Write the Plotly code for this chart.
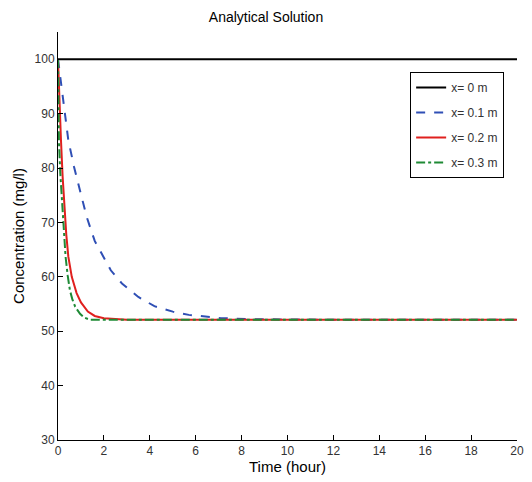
import plotly.graph_objects as go

# x = 0 m : boundary concentration, constant
t0 = [0, 20]
c0 = [100, 100]

# x = 0.1 m
t1 = [0, 0.08, 0.16, 0.3, 0.45, 0.7, 0.96, 1.25, 1.6, 2.0, 2.3, 2.8, 3.5, 4.2, 5.0, 5.7, 6.5, 7.1, 8.5, 10, 12, 14, 16, 18, 20]
c1 = [100, 97.2, 94.3, 89.5, 85.1, 80.2, 75.9, 71.0, 66.6, 63.4, 61.2, 58.7, 56.3, 54.6, 53.6, 53.0, 52.6, 52.4, 52.2, 52.1, 52.1, 52.1, 52.1, 52.1, 52.1]

# x = 0.2 m
t2 = [0, 0.05, 0.13, 0.2, 0.27, 0.36, 0.45, 0.6, 0.81, 1.0, 1.3, 1.6, 2.0, 2.5, 3.0, 5, 10, 15, 20]
c2 = [100, 93.0, 85.1, 78.5, 72.9, 67.8, 63.7, 60.0, 57.0, 55.3, 53.6, 52.8, 52.4, 52.2, 52.1, 52.1, 52.1, 52.1, 52.1]

# x = 0.3 m
t3 = [0, 0.04, 0.1, 0.19, 0.26, 0.33, 0.42, 0.52, 0.63, 0.75, 0.96, 1.15, 1.4, 2.0, 5, 10, 15, 20]
c3 = [100, 85.1, 79.0, 72.9, 68.0, 63.7, 60.3, 57.5, 55.8, 54.5, 53.2, 52.5, 52.1, 52.1, 52.1, 52.1, 52.1, 52.1]

labels = ["x= 0 m", "x= 0.1 m", "x= 0.2 m", "x= 0.3 m"]

fig = go.Figure()
fig.add_trace(go.Scatter(x=t0, y=c0, mode="lines", name=labels[0], legendgroup="a",
                         line=dict(color="#000000", width=2)))
fig.add_trace(go.Scatter(x=t1, y=c1, mode="lines", name=labels[1], legendgroup="b",
                         line=dict(color="#2f4fb5", width=2, dash="dash")))
fig.add_trace(go.Scatter(x=t2, y=c2, mode="lines", name=labels[2], legendgroup="c",
                         line=dict(color="#e0201e", width=2)))
fig.add_trace(go.Scatter(x=t3, y=c3, mode="lines", name=labels[3], legendgroup="d",
                         line=dict(color="#1e8a35", width=2, dash="dashdot")))

axis_style = dict(showline=True, linecolor="#000000", linewidth=1, showgrid=False, zeroline=False,
                  ticks="inside", ticklen=5, tickcolor="#000000", mirror=False,
                  tickfont=dict(size=12, color="#333333"))
fig.update_xaxes(range=[0, 20], dtick=2, title=dict(text="Time (hour)", font=dict(size=15, color="#000000"), standoff=2),
                 **axis_style)
fig.update_yaxes(range=[30, 105], tickvals=[30, 40, 50, 60, 70, 80, 90, 100],
                 title=dict(text="Concentration (mg/l)", font=dict(size=15, color="#000000"), standoff=6),
                 **axis_style)

fig.update_layout(
    width=532, height=482,
    margin=dict(l=58, r=8, t=32, b=42),
    paper_bgcolor="#ffffff", plot_bgcolor="#ffffff",
    font=dict(family="Liberation Sans, Arial, sans-serif", color="#000000"),
    title=dict(text="Analytical Solution", x=0.5, xanchor="center", y=0.965, yanchor="middle",
               font=dict(size=14, color="#000000")),
    legend=dict(x=0.972, xanchor="right", y=0.902, yanchor="top", bordercolor="#000000", borderwidth=1,
                bgcolor="#ffffff", font=dict(size=12, color="#333333"), tracegroupgap=6, traceorder="grouped"),
)

# the page's default body margin would shift the chart by 8px
fig.write_html("out.html", config={"displayModeBar": False},
               post_script="document.body.style.margin='0';document.body.style.overflow='hidden';")
